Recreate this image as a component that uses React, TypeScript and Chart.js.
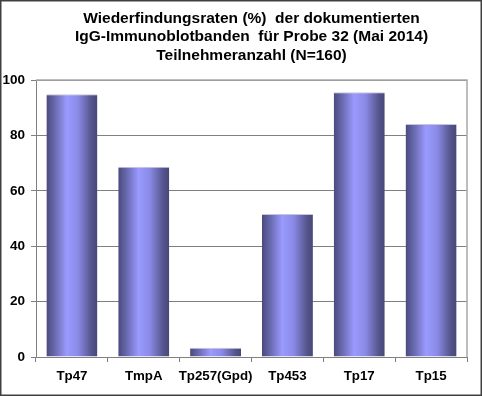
import React, { useEffect, useRef } from "react";
import { Chart, registerables } from "chart.js";

Chart.register(...registerables);

const titleLines = [
  "Wiederfindungsraten (%)  der dokumentierten",
  "IgG-Immunoblotbanden  für Probe 32 (Mai 2014)",
  "Teilnehmeranzahl (N=160)",
];
const categories = ["Tp47", "TmpA", "Tp257(Gpd)", "Tp453", "Tp17", "Tp15"];
const values = [94.9, 68.7, 3.3, 51.6, 95.6, 84.1];
const yTicks = [0, 20, 40, 60, 80, 100];

const FONT = "'Liberation Sans', Arial, sans-serif";
const BAR_PCT = 0.71;

export default function App() {
  const ref = useRef<HTMLCanvasElement | null>(null);

  useEffect(() => {
    document.body.style.margin = "0";
    const canvas = ref.current;
    if (!canvas) return;

    const frame = {
      id: "frame",
      beforeDraw(chart: any) {
        const c = chart.ctx;
        c.save();
        c.fillStyle = "#ffffff";
        c.fillRect(0, 0, chart.width, chart.height);
        c.restore();
      },
      afterDraw(chart: any) {
        const c = chart.ctx;
        const a = chart.chartArea;
        c.save();
        c.strokeStyle = "#a8a8a8";
        c.lineWidth = 1.5;
        c.beginPath();
        c.moveTo(a.left, a.top);
        c.lineTo(a.right, a.top);
        c.lineTo(a.right, a.bottom);
        c.stroke();
        c.strokeStyle = "#404040";
        c.lineWidth = 1.5;
        c.strokeRect(0.75, 0.75, chart.width - 1.5, chart.height - 1.5);
        c.restore();
      },
    };

    const chart = new Chart(canvas, {
      type: "bar",
      data: {
        labels: categories,
        datasets: [
          {
            data: values,
            barPercentage: BAR_PCT,
            categoryPercentage: 1,
            borderSkipped: false,
            borderWidth: { top: 1, left: 0, right: 0, bottom: 0 },
            borderColor: "#c4c4dc",
            backgroundColor: (ctx: any) => {
              const ch = ctx.chart;
              const area = ch.chartArea;
              const xs = ch.scales.x;
              if (!area || !xs) return "#8c8ce8";
              const cx = xs.getPixelForValue(ctx.dataIndex);
              const w = (area.width / categories.length) * BAR_PCT;
              const g = ch.ctx.createLinearGradient(cx - w / 2, 0, cx + w / 2, 0);
              g.addColorStop(0, "#4a4a7e");
              g.addColorStop(0.15, "#6666aa");
              g.addColorStop(0.4, "#9a9aff");
              g.addColorStop(0.62, "#8a8ae6");
              g.addColorStop(0.88, "#55558e");
              g.addColorStop(1, "#474776");
              return g;
            },
          },
        ],
      },
      options: {
        animation: false,
        responsive: true,
        maintainAspectRatio: false,
        layout: { padding: { left: 0, right: 15, top: 0, bottom: 0 } },
        plugins: {
          legend: { display: false },
          tooltip: { enabled: false },
          title: {
            display: true,
            fullSize: false,
            text: titleLines,
            color: "#000000",
            font: { family: FONT, size: 15.5, weight: "bold", lineHeight: 18.5 / 15.5 },
            padding: { top: 9, bottom: 15.5 },
          },
        },
        scales: {
          x: {
            offset: true,
            grid: {
              offset: true,
              drawOnChartArea: false,
              drawTicks: true,
              tickLength: 5,
              color: "#808080",
            },
            border: { display: true, color: "#808080", width: 1 },
            ticks: {
              color: "#000000",
              font: { family: FONT, size: 13.3, weight: "bold" },
              padding: 6,
              maxRotation: 0,
              autoSkip: false,
            },
            afterFit: (s: any) => {
              s.height = 39;
            },
          },
          y: {
            min: 0,
            max: 100,
            afterBuildTicks: (s: any) => {
              s.ticks = yTicks.map((v) => ({ value: v }));
            },
            grid: {
              color: "#808080",
              drawTicks: true,
              tickLength: 5,
            },
            border: { display: true, color: "#808080", width: 1 },
            ticks: {
              color: "#000000",
              font: { family: FONT, size: 13.5, weight: "bold" },
              padding: 6,
            },
            afterFit: (s: any) => {
              s.width = 36;
            },
          },
        },
      },
      plugins: [frame],
    });

    return () => chart.destroy();
  }, []);

  return (
    <div style={{ position: "relative", width: 482, height: 396 }}>
      <canvas ref={ref} />
    </div>
  );
}
